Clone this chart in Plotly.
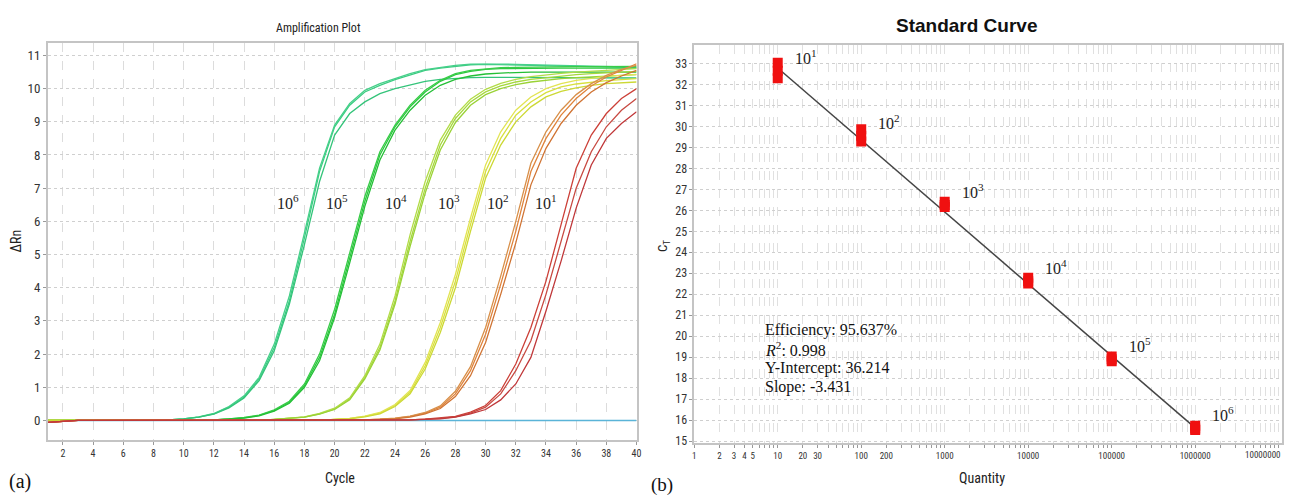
import math
import plotly.graph_objects as go

# The page body keeps the browser's default 8px margin; positions below are given in
# window pixels and converted to paper coordinates (with a small measured vertical correction).
W, H = 1281, 492
OFF = 8
VSCALE = 0.991
VSHIFT = -0.8

# ---------------- Amplification plot data (ΔRn per cycle) ----------------
cycles = list(range(1, 41))

r6a = [0, 0, 0, 0, 0, 0, 0, 0, 0.02, 0.05, 0.1, 0.2, 0.4, 0.7, 1.25, 2.2, 3.6, 5.5, 7.5, 8.85,
       9.5, 9.9, 10.1, 10.27, 10.42, 10.55, 10.62, 10.68, 10.72, 10.73, 10.72, 10.71, 10.7, 10.69, 10.68,
       10.67, 10.66, 10.65, 10.64, 10.63]
r6b = [0, 0, 0, 0, 0, 0, 0, 0, 0.02, 0.05, 0.11, 0.21, 0.42, 0.74, 1.3, 2.3, 3.75, 5.65, 7.6, 8.9,
       9.55, 9.95, 10.15, 10.3, 10.45, 10.57, 10.64, 10.7, 10.74, 10.75, 10.74, 10.73, 10.72, 10.71, 10.7,
       10.69, 10.68, 10.67, 10.66, 10.65]
r6c = [0, 0, 0, 0, 0, 0, 0, 0, 0.02, 0.05, 0.1, 0.19, 0.38, 0.68, 1.2, 2.1, 3.5, 5.3, 7.2, 8.6,
       9.25, 9.6, 9.85, 10.0, 10.12, 10.22, 10.28, 10.31, 10.33, 10.34, 10.34, 10.34, 10.34, 10.34, 10.33,
       10.33, 10.33, 10.32, 10.32, 10.32]

r5a = [0, 0, 0, 0, 0, 0, 0, 0, 0, 0, 0, 0.02, 0.05, 0.08, 0.15, 0.3, 0.55, 1.05, 1.9, 3.2,
       4.9, 6.6, 8.0, 8.85, 9.45, 9.9, 10.22, 10.42, 10.52, 10.58, 10.6, 10.61, 10.62, 10.62, 10.62,
       10.62, 10.62, 10.62, 10.62, 10.62]
r5b = [0, 0, 0, 0, 0, 0, 0, 0, 0, 0, 0, 0.02, 0.05, 0.09, 0.16, 0.32, 0.58, 1.1, 2.0, 3.35,
       5.05, 6.75, 8.1, 8.9, 9.5, 9.95, 10.25, 10.45, 10.55, 10.6, 10.63, 10.64, 10.65, 10.65, 10.66,
       10.66, 10.66, 10.67, 10.67, 10.67]
r5c = [0, 0, 0, 0, 0, 0, 0, 0, 0, 0, 0, 0.02, 0.04, 0.07, 0.14, 0.28, 0.52, 1.0, 1.8, 3.1,
       4.75, 6.45, 7.85, 8.75, 9.35, 9.8, 10.1, 10.28, 10.38, 10.44, 10.47, 10.49, 10.5, 10.5, 10.5,
       10.5, 10.5, 10.5, 10.5, 10.5]

r4a = [0, 0, 0, 0, 0, 0, 0, 0, 0, 0, 0, 0, 0, 0, 0, 0.03, 0.07, 0.1, 0.2, 0.35,
       0.65, 1.3, 2.2, 3.6, 5.4, 7.0, 8.3, 9.1, 9.6, 9.9, 10.08, 10.2, 10.28, 10.33, 10.38,
       10.42, 10.45, 10.48, 10.5, 10.52]
r4b = [0, 0, 0, 0, 0, 0, 0, 0, 0, 0, 0, 0, 0, 0, 0, 0.03, 0.07, 0.11, 0.21, 0.37,
       0.68, 1.35, 2.3, 3.75, 5.6, 7.2, 8.45, 9.2, 9.68, 9.98, 10.16, 10.28, 10.36, 10.42, 10.46,
       10.5, 10.53, 10.56, 10.58, 10.6]
r4c = [0, 0, 0, 0, 0, 0, 0, 0, 0, 0, 0, 0, 0, 0, 0, 0.03, 0.06, 0.1, 0.19, 0.33,
       0.62, 1.25, 2.12, 3.5, 5.25, 6.85, 8.15, 8.98, 9.5, 9.82, 10.0, 10.12, 10.2, 10.26, 10.3,
       10.33, 10.36, 10.38, 10.4, 10.42]

r3a = [0, 0, 0, 0, 0, 0, 0, 0, 0, 0, 0, 0, 0, 0, 0, 0, 0, 0, 0, 0.03,
       0.06, 0.12, 0.22, 0.45, 0.85, 1.65, 2.8, 4.2, 5.9, 7.5, 8.5, 9.2, 9.6, 9.88, 10.05,
       10.14, 10.2, 10.24, 10.27, 10.3]
r3b = [0, 0, 0, 0, 0, 0, 0, 0, 0, 0, 0, 0, 0, 0, 0, 0, 0, 0, 0, 0.03,
       0.06, 0.13, 0.24, 0.48, 0.9, 1.75, 2.95, 4.4, 6.1, 7.7, 8.7, 9.35, 9.75, 10.0, 10.15,
       10.25, 10.32, 10.37, 10.4, 10.43]
r3c = [0, 0, 0, 0, 0, 0, 0, 0, 0, 0, 0, 0, 0, 0, 0, 0, 0, 0, 0, 0.03,
       0.05, 0.11, 0.2, 0.42, 0.8, 1.55, 2.65, 4.0, 5.7, 7.3, 8.3, 9.0, 9.45, 9.75, 9.92,
       10.02, 10.1, 10.15, 10.18, 10.2]

r2a = [-0.06, -0.03, 0, 0, 0, 0, 0, 0, 0, 0, 0, 0, 0, 0, 0, 0, 0, 0, 0, 0,
       0, 0.02, 0.04, 0.06, 0.12, 0.22, 0.4, 0.8, 1.5, 2.6, 4.1, 5.7, 7.5, 8.5, 9.2,
       9.7, 10.08, 10.35, 10.55, 10.75]
r2b = [-0.06, -0.03, 0, 0, 0, 0, 0, 0, 0, 0, 0, 0, 0, 0, 0, 0, 0, 0, 0, 0,
       0, 0.02, 0.04, 0.07, 0.13, 0.24, 0.44, 0.88, 1.62, 2.8, 4.35, 6.0, 7.75, 8.7, 9.35,
       9.82, 10.15, 10.4, 10.58, 10.7]
r2c = [-0.06, -0.03, 0, 0, 0, 0, 0, 0, 0, 0, 0, 0, 0, 0, 0, 0, 0, 0, 0, 0,
       0, 0.02, 0.03, 0.05, 0.1, 0.2, 0.36, 0.72, 1.35, 2.35, 3.8, 5.35, 7.1, 8.2, 8.95,
       9.5, 9.9, 10.18, 10.38, 10.55]

r1a = [-0.06, -0.03, 0, 0, 0, 0, 0, 0, 0, 0, 0, 0, 0, 0, 0, 0, 0, 0, 0, 0,
       0, 0, 0, 0, 0.02, 0.04, 0.07, 0.12, 0.25, 0.45, 0.9, 1.7, 2.8, 4.2, 5.9,
       7.6, 8.6, 9.25, 9.7, 10.0]
r1b = [-0.06, -0.03, 0, 0, 0, 0, 0, 0, 0, 0, 0, 0, 0, 0, 0, 0, 0, 0, 0, 0,
       0, 0, 0, 0, 0.02, 0.04, 0.06, 0.11, 0.22, 0.4, 0.8, 1.5, 2.4, 3.8, 5.4,
       7.0, 8.1, 8.85, 9.35, 9.7]
r1c = [-0.06, -0.03, 0, 0, 0, 0, 0, 0, 0, 0, 0, 0, 0, 0, 0, 0, 0, 0, 0, 0,
       0, 0, 0, 0, 0.02, 0.03, 0.05, 0.1, 0.2, 0.33, 0.62, 1.1, 1.9, 3.3, 4.8,
       6.4, 7.7, 8.5, 8.95, 9.3]

ntc = [0, 0, 0, 0, 0, 0, 0, 0, 0, 0, 0, 0, 0, 0, 0, 0, 0, 0, 0, 0,
       0, 0, 0, 0, 0, 0, 0, 0, 0, 0, 0, 0, 0, 0, 0, 0, 0, 0, 0, 0]

groups = ["10<sup>6</sup>", "10<sup>5</sup>", "10<sup>4</sup>", "10<sup>3</sup>", "10<sup>2</sup>", "10<sup>1</sup>"]
group_curves = [[r6a, r6b, r6c], [r5a, r5b, r5c], [r4a, r4b, r4c],
                [r3a, r3b, r3c], [r2a, r2b, r2c], [r1a, r1b, r1c]]
group_colors = [["#3ccc82", "#46d08a", "#34c47a"],
                ["#2cc83e", "#38cc48", "#24bf36"],
                ["#a6d83e", "#b2dc48", "#9ad236"],
                ["#d8e03c", "#e2e454", "#ccd834"],
                ["#e0843c", "#d8904a", "#d07434"],
                ["#cc4038", "#c84a42", "#c0383a"]]
label_cycle = [16.94, 20.17, 24.06, 27.6, 30.84, 34.0]
label_drn = [6.59, 6.59, 6.59, 6.59, 6.59, 6.59]

# ---------------- Standard curve data ----------------
quantity = [10, 100, 1000, 10000, 100000, 1000000]
quantity_labels = ["10<sup>1</sup>", "10<sup>2</sup>", "10<sup>3</sup>",
                   "10<sup>4</sup>", "10<sup>5</sup>", "10<sup>6</sup>"]
ct_rep1 = [32.30, 29.28, 26.16, 22.51, 18.81, 15.53]
ct_rep2 = [32.66, 29.55, 26.25, 22.62, 18.90, 15.60]
ct_rep3 = [33.04, 29.86, 26.41, 22.79, 19.03, 15.73]
efficiency = "95.637%"
r_squared = "0.998"
y_intercept = 36.214
slope = -3.431

x_tick_vals = [1, 2, 3, 4, 5, 6, 7, 8, 9,
               10, 20, 30, 40, 50, 60, 70, 80, 90,
               100, 200, 300, 400, 500, 600, 700, 800, 900,
               1000, 2000, 3000, 4000, 5000, 6000, 7000, 8000, 9000,
               10000, 20000, 30000, 40000, 50000, 60000, 70000, 80000, 90000,
               100000, 200000, 300000, 400000, 500000, 600000, 700000, 800000, 900000,
               1000000, 2000000, 3000000, 4000000, 5000000, 6000000, 7000000, 8000000, 9000000,
               10000000]
x_tick_text = ["1", "2", "3", "4", "5", "", "", "", "",
               "10", "20", "30", "", "", "", "", "", "",
               "100", "200", "", "", "", "", "", "", "",
               "1000", "", "", "", "", "", "", "", "",
               "10000", "", "", "", "", "", "", "", "",
               "100000", "", "", "", "", "", "", "", "",
               "1000000", "", "", "", "", "", "", "", "",
               ""]
last_tick_label = "10000000"   # drawn right-aligned at the figure edge (it would overflow the page)

NARROW = "Liberation Sans Narrow, Arial Narrow, Roboto Condensed, Liberation Sans, Arial, sans-serif"
SANS = "Liberation Sans, Arial, sans-serif"
SERIF = "Liberation Serif, Times New Roman, serif"


def px_x(p):
    return (p - OFF) / W


def px_y(p):
    q = (p - VSHIFT) / VSCALE
    return 1 - (q - OFF) / H


fig = go.Figure()

# NTC baseline first (blue, under everything)
fig.add_trace(go.Scatter(x=cycles, y=ntc, mode="lines", line=dict(color="#5ab4d8", width=1.6),
                         xaxis="x", yaxis="y", showlegend=False, hoverinfo="skip"))
for curves, cols in zip(group_curves, group_colors):
    for c, col in zip(curves, cols):
        fig.add_trace(go.Scatter(x=cycles, y=c, mode="lines", line=dict(color=col, width=1.3),
                                 xaxis="x", yaxis="y", showlegend=False))

# Standard curve: regression line + replicate markers
q_line = [quantity[0], quantity[-1]]
ct_line = [y_intercept + slope * math.log10(q) for q in q_line]
fig.add_trace(go.Scatter(x=q_line, y=ct_line, mode="lines", line=dict(color="#454545", width=1.5),
                         xaxis="x2", yaxis="y2", showlegend=False))
fig.add_trace(go.Scatter(x=quantity * 3, y=ct_rep1 + ct_rep2 + ct_rep3, mode="markers",
                         marker=dict(symbol="square", size=10, color="#f01010", line=dict(width=0)),
                         xaxis="x2", yaxis="y2", showlegend=False))

ann = []
for lbl, cx, cy in zip(groups, label_cycle, label_drn):
    ann.append(dict(x=cx, y=cy, xref="x", yref="y", text=lbl, showarrow=False,
                    font=dict(family=SERIF, size=16, color="#222")))
for lbl, q, ct in zip(quantity_labels, quantity, ct_rep2):
    ann.append(dict(x=math.log10(q), y=ct, xref="x2", yref="y2", text=lbl, showarrow=False,
                    xanchor="left", yanchor="middle", xshift=15, yshift=14,
                    font=dict(family=SERIF, size=16, color="#222")))
stats_lines = ["Efficiency: " + efficiency,
               "<i>R</i><sup>2</sup>: " + r_squared,
               "Y-Intercept: " + f"{y_intercept:.3f}",
               "Slope: " + f"{slope:.3f}"]
for i, t in enumerate(stats_lines):
    ann.append(dict(x=px_x(765), y=px_y(330 + 19 * i), xref="paper", yref="paper",
                    xanchor="left", yanchor="middle", showarrow=False, text=t,
                    font=dict(family=SERIF, size=16, color="#111")))


def pa(text, px, py, size, family=NARROW, angle=0, color="#222", xanchor="center"):
    return dict(x=px_x(px), y=px_y(py), xref="paper", yref="paper", text=text, showarrow=False,
                xanchor=xanchor, yanchor="middle", textangle=angle,
                font=dict(family=family, size=size, color=color))


ann += [
    pa("Amplification Plot", 318, 27, 12),
    pa("<b>Standard Curve</b>", 970, 25, 19, family=SANS, color="#111"),
    pa("Cycle", 340, 478, 14),
    pa("Quantity", 985, 478, 14),
    pa("ΔRn", 14, 240, 14, angle=-90),
    pa("C<sub>T</sub>", 665, 245, 13, angle=-90),
    pa("(a)", 18, 481, 20, family=SERIF, color="#111"),
    pa("(b)", 664, 485, 19, family=SERIF, color="#111"),
    pa(last_tick_label, 1288, 455, 9, color="#333", xanchor="right"),
]

axis_common = dict(showline=True, mirror=True, linecolor="#c4c4c4", linewidth=1.5, zeroline=False,
                   ticks="outside", ticklen=3, tickcolor="#999", showgrid=True)

fig.update_layout(
    width=W, height=H, margin=dict(l=0, r=0, t=0, b=0),
    paper_bgcolor="white", plot_bgcolor="white", showlegend=False,
    annotations=ann,
    xaxis=dict(domain=[px_x(46), px_x(638)], range=[1, 40], tickvals=list(range(2, 41, 2)),
               gridcolor="#dcdcdc", griddash="dash", gridwidth=1,
               tickfont=dict(family=NARROW, size=10, color="#333"), anchor="y", **axis_common),
    yaxis=dict(domain=[px_y(440), px_y(42)], range=[-0.6, 11.38], tickvals=list(range(0, 12)),
               gridcolor="#cfcfcf", griddash="dot", gridwidth=1,
               tickfont=dict(family=NARROW, size=13, color="#333"), anchor="x", **axis_common),
    xaxis2=dict(domain=[px_x(696), px_x(1287)], type="log", range=[0, 7.04],
                tickvals=x_tick_vals, ticktext=x_tick_text,
                gridcolor="#e0e0e0", griddash="dash", gridwidth=1,
                tickfont=dict(family=NARROW, size=9, color="#333"), anchor="y2", **axis_common),
    yaxis2=dict(domain=[px_y(443), px_y(44)], range=[14.89, 33.89], tickvals=list(range(15, 34)),
                gridcolor="#cfcfcf", griddash="dot", gridwidth=1,
                tickfont=dict(family=NARROW, size=12, color="#333"), anchor="x2", **axis_common),
)

fig.write_html("out.html", config={"displayModeBar": False})
